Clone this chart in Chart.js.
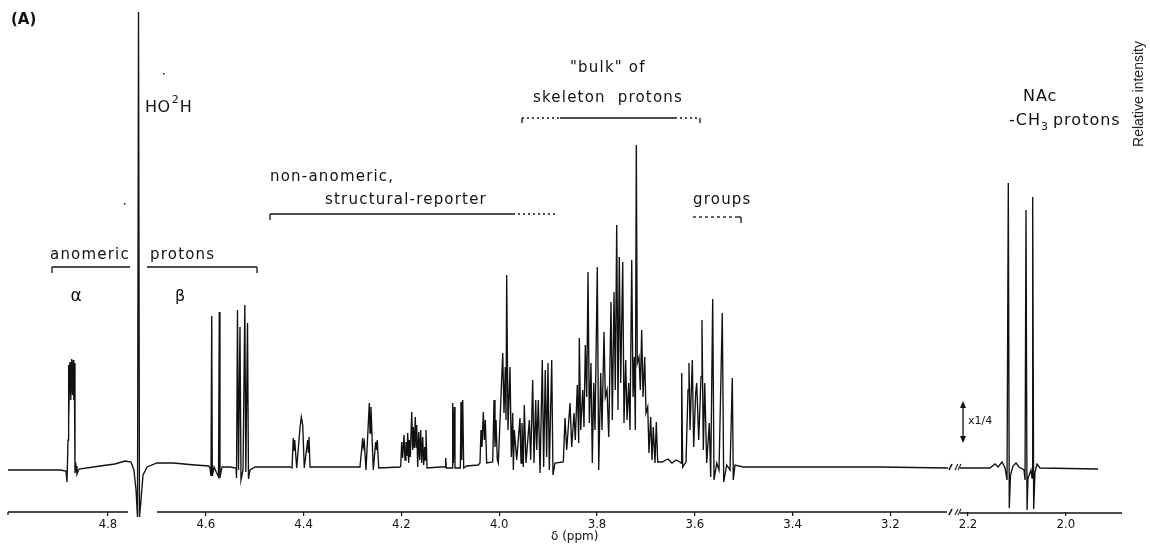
<!DOCTYPE html>
<html>
<head>
<meta charset="utf-8">
<script src="https://cdn.jsdelivr.net/npm/chart.js@4.4.1/dist/chart.umd.min.js"></script>
<style>
  html, body { margin: 0; padding: 0; background: #fff; }
  #chart { display: block; }
</style>
</head>
<body>
<canvas id="chart" width="1150" height="545"></canvas>
<script>
/******************* DATA *******************/
// trace vertices as [delta (ppm), intensity above baseline]

const alphaRegion = [
  [5.0045, 0], [4.939, 0], [4.898, 0], [4.886, -1], [4.8838, -12], [4.8818, 30],
  [4.8812, 105], [4.8798, 50], [4.8777, 108], [4.8761, 70], [4.8742, 111], [4.8726, 75],
  [4.8710, 110], [4.8699, 70], [4.8689, 107], [4.8675, -3], [4.8654, 4], [4.8634, -4],
  [4.8593, 1], [4.816, 4], [4.786, 6], [4.765, 9], [4.753, 8], [4.747, 0]
];

const waterRegion = [
  [4.7427, -20], [4.7397, -47], [4.7376, 458], [4.7356, -47], [4.7325, -30],
  [4.7284, -5], [4.720, 3], [4.700, 7], [4.667, 7], [4.622, 5], [4.594, 4]
];

const betaRegion = [
  [4.5914, 2], [4.5894, -6], [4.5879, 154], [4.5867, -6], [4.5832, 3],
  [4.5740, -7], [4.5724, 158], [4.5710, -8], [4.5669, 3], [4.5505, 3],
  [4.5382, 2], [4.5372, -8], [4.5352, 160], [4.5331, 0], [4.5301, 143], [4.5280, -10],
  [4.5239, 0], [4.5202, 165], [4.5182, -2], [4.5147, 147], [4.5127, -9], [4.5096, 0],
  [4.4994, 3], [4.4278, 3]
];

const reporterRegion = [
  [4.4237, 2], [4.4211, 32], [4.4196, 20], [4.4182, 30], [4.4141, 2], [4.4074, 42],
  [4.4047, 53], [4.4018, 45], [4.3986, 2], [4.3916, 30], [4.3904, 18], [4.3890, 33],
  [4.3869, 3], [4.3665, 3], [4.3051, 3],
  [4.2847, 3], [4.2791, 32], [4.2779, 23], [4.2759, 28], [4.2724, 0], [4.2656, 67],
  [4.2642, 37], [4.2622, 63], [4.2575, 0], [4.2526, 28], [4.2509, 20], [4.2493, 30],
  [4.2464, 2], [4.2029, 3],
  [4.2014, 4], [4.1994, 28], [4.1974, 12], [4.1947, 35], [4.1926, 10], [4.1906, 28],
  [4.1887, 14], [4.1871, 37], [4.1851, 7], [4.1838, 30], [4.1818, 13], [4.1789, 58],
  [4.1769, 20], [4.1757, 43], [4.1736, 22], [4.1716, 53], [4.1701, 23], [4.1687, 45],
  [4.1667, 3], [4.1646, 38], [4.1626, 10], [4.1605, 40], [4.1585, 7], [4.1564, 33],
  [4.1544, 5], [4.1523, 23], [4.1511, 10], [4.1497, 40], [4.1476, 2], [4.1211, 3],
  [4.1108, 3], [4.1094, 12], [4.1082, 2],
  [4.0965, 2], [4.0951, 67], [4.0938, 7], [4.0918, 63], [4.0904, 2],
  [4.0795, 2], [4.0781, 68], [4.0767, 10], [4.0746, 70], [4.0726, 2], [4.0665, 4],
  [4.0427, 5], [4.0393, 7], [4.0372, 40], [4.0352, 23], [4.0325, 58], [4.0304, 30],
  [4.0284, 50], [4.0256, 7], [4.0133, 8], [4.0106, 70], [4.0086, 23], [4.0065, 50],
  [4.0039, 10], [4.0018, 7]
];

const bulkRegion = [
  [3.9928, 117], [3.9902, 57], [3.9875, 103], [3.9861, 50], [3.9847, 195], [3.9820, 40],
  [3.9779, 103], [3.9752, 13], [3.9724, 57], [3.9711, 0], [3.9691, 40], [3.9642, 10],
  [3.9575, 52], [3.9554, 7], [3.9534, 47], [3.9507, 3], [3.9487, 65], [3.9452, 7],
  [3.9384, 50], [3.9356, 10], [3.9315, 90], [3.9288, 7], [3.9253, 70], [3.9233, 20],
  [3.9200, 70], [3.9165, -3], [3.9119, 110], [3.9091, 3], [3.9058, 100], [3.9030, 13],
  [3.9002, 107], [3.8975, 0], [3.8926, 110], [3.8900, -5], [3.8859, 7], [3.8689, 8],
  [3.8654, 52], [3.8620, 20], [3.8552, 67], [3.8517, 23], [3.8470, 57], [3.8444, 30],
  [3.8403, 85], [3.8374, 27], [3.8362, 132], [3.8333, 40], [3.8292, 80], [3.8266, 43],
  [3.8239, 125], [3.8210, 73], [3.8184, 198], [3.8157, 47], [3.8123, 107], [3.8096, 7],
  [3.8067, 87], [3.8041, 40], [3.7994, 203], [3.7965, 0], [3.7924, 97], [3.7898, 40],
  [3.7857, 138], [3.7830, 73], [3.7795, 80], [3.7760, 33], [3.7714, 168], [3.7687, 50],
  [3.7652, 178], [3.7626, 80], [3.7597, 245], [3.7571, 60], [3.7544, 213], [3.7515, 87],
  [3.7474, 208], [3.7448, 47], [3.7413, 110], [3.7386, 50], [3.7352, 87], [3.7325, 40],
  [3.7290, 210], [3.7263, 73], [3.7237, 113], [3.7216, 40], [3.7196, 325], [3.7176, 107],
  [3.7141, 113], [3.7114, 80], [3.7086, 140], [3.7059, 73], [3.7025, 113], [3.6998, 57],
  [3.6963, 63], [3.6937, 17], [3.6902, 53], [3.6875, 10], [3.6849, 43], [3.6814, 7],
  [3.6787, 48], [3.6759, 8], [3.6671, 8], [3.6548, 11], [3.6466, 7], [3.6384, 10],
  [3.6303, 8]
];

const groupsRegion = [
  [3.6282, 7], [3.6268, 97], [3.6248, 3], [3.6180, 8], [3.6139, 80], [3.6119, 107],
  [3.6098, 40], [3.6051, 110], [3.6023, 23], [3.5982, 77], [3.5961, 87], [3.5920, 30],
  [3.5873, 93], [3.5853, 150], [3.5826, 20], [3.5797, 87], [3.5757, 7], [3.5704, 47],
  [3.5675, -7], [3.5634, 171], [3.5607, -10], [3.5552, 7], [3.5505, 0], [3.5438, 157],
  [3.5409, -12], [3.5348, 5], [3.5280, 0], [3.5233, 92], [3.5213, -10], [3.5178, 5],
  [3.5008, 3], [3.3849, 3], [3.2213, 3], [3.0822, 2]
];

const nacRegion = [
  [2.2164, 2], [2.1550, 2], [2.1448, 6], [2.1387, 3], [2.1305, 8], [2.1243, 2],
  [2.1202, -10], [2.1176, 287], [2.1156, -38], [2.1131, -5], [2.1080, 4], [2.1018, 7],
  [2.0957, 3], [2.0855, 0], [2.0834, -10], [2.0814, 260], [2.0793, -40], [2.0773, -8],
  [2.0712, 0], [2.0691, -8], [2.0677, 273], [2.0657, -39], [2.0630, -2], [2.0589, 6],
  [2.0528, 2], [1.9342, 1]
];

const xTickPpm = [4.8, 4.6, 4.4, 4.2, 4.0, 3.8, 3.6, 3.4, 3.2, 2.2, 2.0];
const xTickLabels = ['4.8', '4.6', '4.4', '4.2', '4.0', '3.8', '3.6', '3.4', '3.2', '2.2', '2.0'];

/******************* AXIS BREAK *******************/
// the 3.1 - 2.25 ppm stretch is cut out; the methyl part is shifted left
const BREAK_SHIFT = 0.8413;
function toAxis(ppm) { return ppm < 2.6 ? ppm + BREAK_SHIFT : ppm; }

const FONT = '"DejaVu Sans", "Noto Sans", sans-serif';
const INK = '#111';

/******************* DATASET *******************/
const leftTrace = [].concat(alphaRegion, waterRegion, betaRegion, reporterRegion, bulkRegion, groupsRegion);
const traceData = leftTrace.map(p => ({ x: toAxis(p[0]), y: p[1] }));
traceData.push({ x: 3.07, y: null }); // gap at the break
nacRegion.forEach(p => traceData.push({ x: toAxis(p[0]), y: p[1] }));

/******************* ANNOTATION PLUGIN *******************/
function line(ctx, x1, y1, x2, y2, dash) {
  ctx.save();
  ctx.setLineDash(dash || []);
  ctx.beginPath();
  ctx.moveTo(x1, y1);
  ctx.lineTo(x2, y2);
  ctx.stroke();
  ctx.restore();
}

function text(ctx, str, x, y, size, opts) {
  opts = opts || {};
  ctx.save();
  ctx.font = (opts.weight || '') + ' ' + size + 'px ' + (opts.family || FONT);
  ctx.fillStyle = opts.color || INK;
  ctx.textAlign = opts.align || 'left';
  ctx.textBaseline = 'middle';
  if ('letterSpacing' in ctx) ctx.letterSpacing = (opts.spacing || 0) + 'px';
  ctx.fillText(str, x, y);
  const w = ctx.measureText(str).width;
  ctx.restore();
  return w;
}

const annotations = {
  id: 'annotations',
  afterDraw(chart) {
    const ctx = chart.ctx;
    const xs = chart.scales.x;
    const px = ppm => xs.getPixelForValue(toAxis(ppm));
    const axisY = chart.chartArea.bottom;

    ctx.save();
    ctx.strokeStyle = INK;
    ctx.lineWidth = 1.3;

    // broken x axis line
    line(ctx, px(5.0045), axisY, px(4.7591), axisY);
    line(ctx, px(4.6998), axisY, px(3.0843), axisY);
    line(ctx, px(2.2164), axisY + 1, px(1.8851), axisY + 1);
    line(ctx, px(5.0045), axisY, px(5.0045), axisY + 3);

    // break marks on trace and axis
    [467, axisY].forEach(y => {
      const xb = px(3.07);
      ctx.lineWidth = 1.6;
      line(ctx, xb - 5, y + 3, xb - 2, y - 3);
      ctx.lineWidth = 1.1;
      line(ctx, xb + 1, y + 3, xb + 4, y - 3);
      line(ctx, xb + 4, y + 3, xb + 7, y - 3);
    });
    ctx.lineWidth = 1.3;

    // scanning specks in the original
    ctx.fillStyle = INK;
    ctx.fillRect(px(4.6876), 73, 1.5, 1.5);
    ctx.fillRect(px(4.7673), 203, 1.5, 1.5);

    // panel letter and axis title
    text(ctx, '(A)', 11, 20, 15, { weight: 'bold' });
    text(ctx, 'δ (ppm)', 551, 537, 12);

    // HO2H
    let x = px(4.7243);
    x += text(ctx, 'HO', x, 108, 16, { spacing: 0.5 });
    x += text(ctx, '2', x + 1, 100, 11) + 2;
    text(ctx, 'H', x, 108, 16);

    // anomeric protons
    text(ctx, 'anomeric', px(4.9186), 255, 15, { spacing: 1.2 });
    text(ctx, 'protons', px(4.7141), 255, 15, { spacing: 1.2 });
    line(ctx, px(4.9145), 267, px(4.755), 267);
    line(ctx, px(4.9145), 267, px(4.9145), 273);
    line(ctx, px(4.7202), 267, px(4.4953), 267);
    line(ctx, px(4.4953), 267, px(4.4953), 273);
    text(ctx, 'α', px(4.8654), 297, 17, { align: 'center' });
    text(ctx, 'β', px(4.6528), 297, 16, { align: 'center' });

    // structural-reporter groups
    text(ctx, 'non-anomeric,', px(4.4687), 177, 15, { spacing: 1.2 });
    text(ctx, 'structural-reporter', px(4.3562), 200, 15, { spacing: 1.2 });
    line(ctx, px(4.4687), 214, px(3.9718), 214);
    line(ctx, px(4.4687), 214, px(4.4687), 220);
    line(ctx, px(3.9718), 214, px(3.8818), 214, [2, 3]);
    text(ctx, 'groups', px(3.6037), 200, 15, { spacing: 1.2 });
    line(ctx, px(3.6037), 217, px(3.5137), 217, [3, 3]);
    line(ctx, px(3.5137), 217, px(3.5055), 217);
    line(ctx, px(3.5055), 217, px(3.5055), 223);

    // bulk of skeleton protons
    text(ctx, '"bulk" of', px(3.8552), 68, 15, { spacing: 1.2 });
    text(ctx, 'skeleton  protons', px(3.9309), 98, 15, { spacing: 1.2 });
    line(ctx, px(3.9534), 118, px(3.8757), 118, [2, 3]);
    line(ctx, px(3.9534), 118, px(3.9534), 123);
    line(ctx, px(3.8757), 118, px(3.6405), 118);
    line(ctx, px(3.6405), 118, px(3.5894), 118, [2, 3]);
    line(ctx, px(3.5894), 118, px(3.5894), 123);

    // NAc methyl
    text(ctx, 'NAc', px(2.0876), 97, 16, { spacing: 1 });
    x = px(2.1162);
    x += text(ctx, '-CH', x, 121, 16, { spacing: 1 });
    x += text(ctx, '3', x, 127, 11) + 5;
    text(ctx, 'protons', x, 121, 16, { spacing: 1 });

    // x1/4 scale arrow
    const xa = px(2.2102);
    line(ctx, xa, 403, xa, 441);
    ctx.fillStyle = INK;
    ctx.beginPath();
    ctx.moveTo(xa, 401); ctx.lineTo(xa - 3, 408); ctx.lineTo(xa + 3, 408); ctx.closePath();
    ctx.moveTo(xa, 443); ctx.lineTo(xa - 3, 436); ctx.lineTo(xa + 3, 436); ctx.closePath();
    ctx.fill();
    text(ctx, 'x1/4', xa + 5, 421, 11);

    // right-hand axis caption
    ctx.save();
    ctx.translate(1139, 94);
    ctx.rotate(-Math.PI / 2);
    text(ctx, 'Relative intensity', 0, 0, 14, { align: 'center', family: '"Liberation Sans", Arial, sans-serif', color: '#222' });
    ctx.restore();

    ctx.restore();
  }
};

/******************* CHART *******************/
new Chart(document.getElementById('chart'), {
  type: 'line',
  data: {
    datasets: [{
      data: traceData,
      borderColor: INK,
      borderWidth: 1.35,
      pointRadius: 0,
      tension: 0,
      spanGaps: false,
      clip: false
    }]
  },
  options: {
    responsive: false,
    devicePixelRatio: 1,
    animation: false,
    layout: { padding: { left: 8, right: 26, top: 0, bottom: 0 } },
    plugins: { legend: { display: false }, tooltip: { enabled: false } },
    scales: {
      x: {
        type: 'linear',
        reverse: true,
        min: 2.7223,
        max: 5.0045,
        afterBuildTicks: scale => { scale.ticks = xTickPpm.map(v => ({ value: toAxis(v) })); },
        afterFit: scale => { scale.height = 33; },
        border: { display: false },
        grid: { drawOnChartArea: false, drawTicks: true, tickLength: 4, color: INK, lineWidth: 1.2 },
        ticks: {
          autoSkip: false,
          maxRotation: 0,
          padding: 1,
          color: INK,
          font: { family: '"DejaVu Sans Condensed", "DejaVu Sans", sans-serif', size: 13 },
          callback: (value, index) => xTickLabels[index]
        }
      },
      y: {
        display: false,
        min: -42,
        max: 470
      }
    }
  },
  plugins: [annotations]
});
</script>
</body>
</html>
